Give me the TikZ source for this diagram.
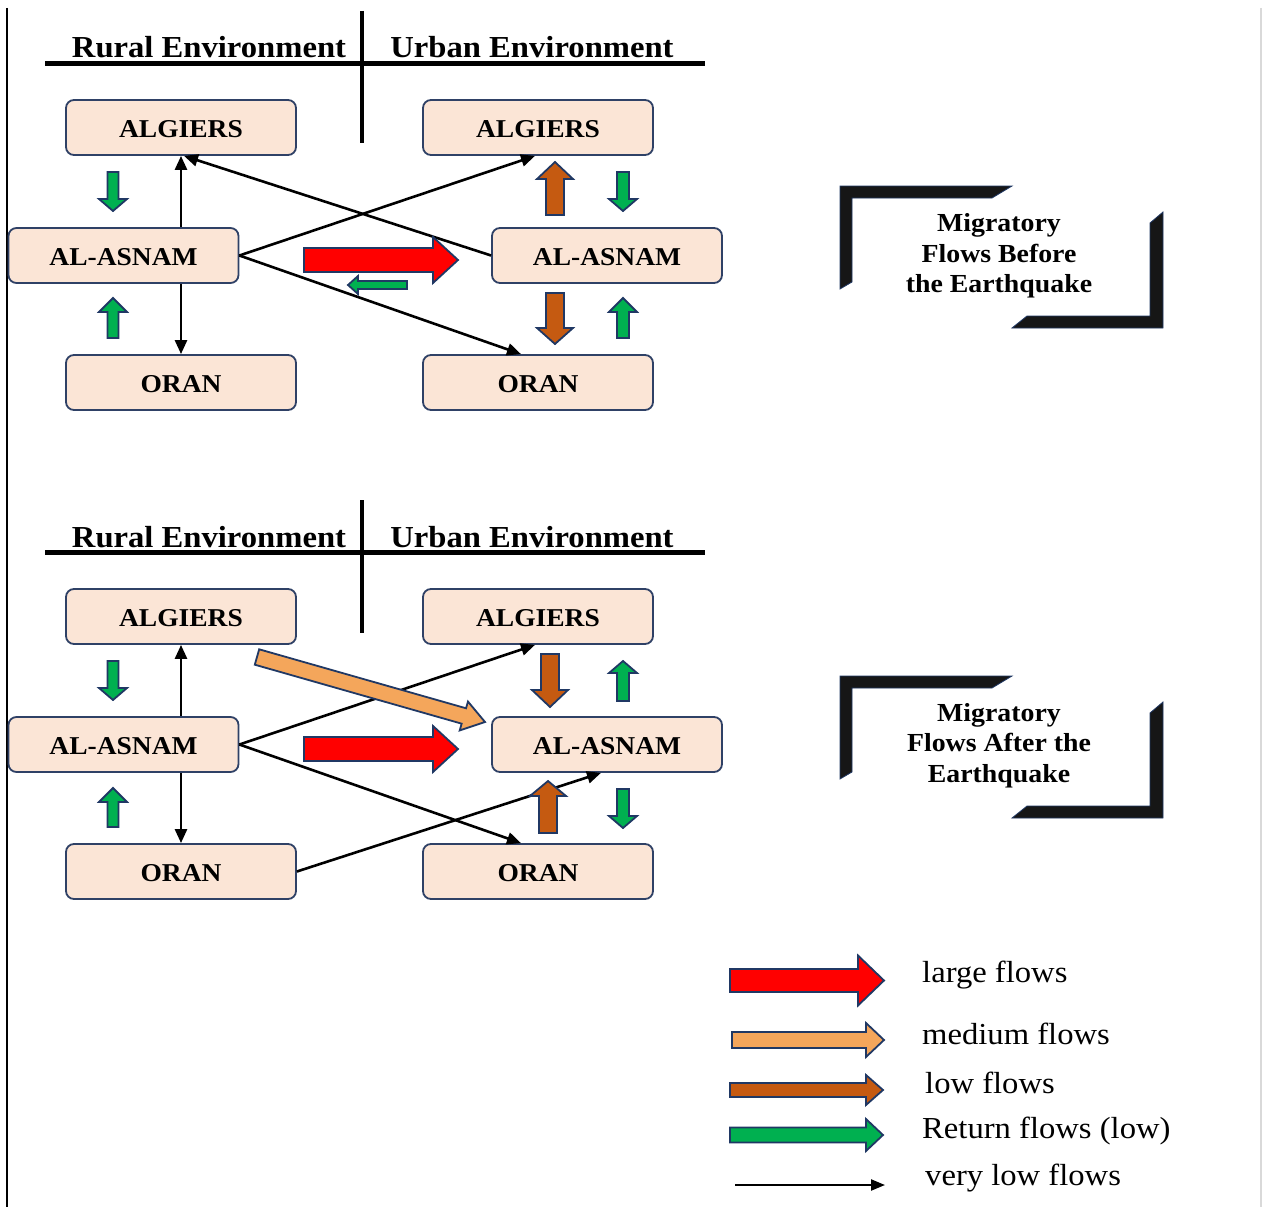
\documentclass[tikz,border=0pt]{standalone}
\usepackage{fontspec}
\setmainfont{Liberation Serif}[FakeStretch=1.07]
\usetikzlibrary{calc,arrows.meta}

\definecolor{nodefill}{HTML}{FBE5D6}
\definecolor{nodeline}{HTML}{2F4166}
\definecolor{arrowline}{HTML}{203864}
\definecolor{largeflow}{HTML}{FF0000}
\definecolor{mediumflow}{HTML}{F4A65B}
\definecolor{lowflow}{HTML}{C55A11}
\definecolor{returnflow}{HTML}{00B050}
\definecolor{bracketfill}{HTML}{161616}

\newcommand\cityfont{\fontsize{25.7}{30}\selectfont\bfseries}
\newcommand\headfont{\fontsize{30.5}{34}\selectfont\bfseries}
\newcommand\legfont{\fontsize{30.5}{34}\selectfont}
\newcommand\capfont{\fontsize{26}{30.5}\selectfont\bfseries}

% block arrow: start, end, shaft half-width, head half-width, head length, colour
\newcommand\flowarrow[6]{%
  \coordinate (fa-s) at (#1);
  \coordinate (fa-e) at (#2);
  \coordinate (fa-h) at ($(fa-e)!#5pt!(fa-s)$);
  \filldraw[fill=#6, draw=arrowline, line width=1.8pt, line join=miter]
    ($(fa-s)!#3pt!90:(fa-e)$) -- ($(fa-h)!#3pt!90:(fa-e)$) --
    ($(fa-h)!#4pt!90:(fa-e)$) -- (fa-e) --
    ($(fa-h)!#4pt!-90:(fa-e)$) -- ($(fa-h)!#3pt!-90:(fa-e)$) --
    ($(fa-s)!#3pt!-90:(fa-e)$) -- cycle;
}

% half-frame brackets around a caption, shifted vertically by #1
\newcommand\captionframe[1]{%
  \begin{scope}[yshift=-#1pt]
    \filldraw[fill=bracketfill, draw=arrowline, line width=0.8pt]
      (840,186) -- (1012,186) -- (992,198) -- (852,198) -- (852,282) -- (840,289) -- cycle;
    \filldraw[fill=bracketfill, draw=arrowline, line width=0.8pt]
      (1163,328) -- (1012,328) -- (1027,316) -- (1150,316) -- (1150,223) -- (1163,212) -- cycle;
  \end{scope}
}

\tikzset{
  city/.style={draw=nodeline, fill=nodefill, line width=1.8pt, rounded corners=8pt,
    minimum width=230pt, minimum height=55pt, inner sep=0pt, font=\cityfont,
    text height=20.5pt, text depth=0pt},
  flow/.style={line width=2.6pt, -{Triangle[length=14pt,width=12pt]}},
  divider/.style={line width=4.5pt},
  heading/.style={anchor=base, inner sep=0pt, font=\headfont},
  legendtext/.style={anchor=base west, inner sep=0pt, font=\legfont},
  caption/.style={align=center, inner sep=0pt, font=\capfont},
}

\begin{document}
\begin{tikzpicture}[x=1pt,y=-1pt]
\useasboundingbox (0,0) rectangle (1262,1207);

% page rules
\draw[line width=2pt] (7,8) -- (7,1207);
\draw[gray!30, line width=1.5pt] (1261,8) -- (1261,1207);

% ---------------- before the earthquake ----------------
\draw[divider] (45,63.5) -- (705,63.5);
\draw[divider] (362,11) -- (362,143);
\node[heading] (h1r) at (209,58) {Rural Environment};
\node[heading] (h1u) at (532,58) {Urban Environment};

\node[city] (rAl1) at (181,127.5) {ALGIERS};
\node[city] (rAs1) at (123.5,255.5) {AL-ASNAM};
\node[city] (rOr1) at (181,382.5) {ORAN};
\node[city] (uAl1) at (538,127.5) {ALGIERS};
\node[city] (uAs1) at (607,255.5) {AL-ASNAM};
\node[city] (uOr1) at (538,382.5) {ORAN};

\draw[flow] (rAs1.north -| rAl1.south) -- (rAl1.south);
\draw[flow] (rAs1.south -| rOr1.north) -- (rOr1.north);
\draw[flow] (rAs1.east) -- ($(uAl1.south)+(-3,0)$);
\draw[flow] (rAs1.east) -- ($(uOr1.north)+(-17,0)$);
\draw[flow] (uAs1.west) -- ($(rAl1.south)+(3,0)$);

\flowarrow{113,172}{113,211}{5.5}{14}{12}{returnflow}
\flowarrow{113,338}{113,298}{5.5}{14}{14}{returnflow}
\flowarrow{555,215}{555,162}{9}{18}{17}{lowflow}
\flowarrow{623,172}{623,211}{6}{14}{12}{returnflow}
\flowarrow{555,293}{555,344}{9}{18}{16}{lowflow}
\flowarrow{623,338}{623,298}{6}{14}{14}{returnflow}
\flowarrow{304,260}{458,260}{12}{23}{25}{largeflow}
\flowarrow{407,285}{348,285}{4}{9}{10}{returnflow}

\captionframe{0}
\node[caption] (cap1) at (999,256) {Migratory\\Flows Before\\the Earthquake};

% ---------------- after the earthquake ----------------
\draw[divider] (45,552.5) -- (705,552.5);
\draw[divider] (362,500) -- (362,633);
\node[heading] (h2r) at (209,547) {Rural Environment};
\node[heading] (h2u) at (532,547) {Urban Environment};

\node[city] (rAl2) at (181,616.5) {ALGIERS};
\node[city] (rAs2) at (123.5,744.5) {AL-ASNAM};
\node[city] (rOr2) at (181,871.5) {ORAN};
\node[city] (uAl2) at (538,616.5) {ALGIERS};
\node[city] (uAs2) at (607,744.5) {AL-ASNAM};
\node[city] (uOr2) at (538,871.5) {ORAN};

\draw[flow] (rAs2.north -| rAl2.south) -- (rAl2.south);
\draw[flow] (rAs2.south -| rOr2.north) -- (rOr2.north);
\draw[flow] (rAs2.east) -- ($(uAl2.south)+(-3,0)$);
\draw[flow] (rAs2.east) -- ($(uOr2.north)+(-17,0)$);
\draw[flow] (rOr2.east) -- ($(uAs2.south)+(-6,0)$);

\flowarrow{113,661}{113,700}{5.5}{14}{12}{returnflow}
\flowarrow{113,827}{113,788}{5.5}{14}{14}{returnflow}
\flowarrow{257,657}{485,722}{8}{15}{22}{mediumflow}
\flowarrow{304,749}{458,749}{12}{23}{25}{largeflow}
\flowarrow{550,654}{550,707}{9}{18}{17}{lowflow}
\flowarrow{623,701}{623,661}{6}{14}{12}{returnflow}
\flowarrow{548,833}{548,781}{9}{18}{15}{lowflow}
\flowarrow{623,789}{623,828}{6}{14}{12}{returnflow}

\captionframe{490}
\node[caption] (cap2) at (999,745.5) {Migratory\\Flows After the\\Earthquake};

% ---------------- legend ----------------
\flowarrow{730,980.5}{884,980.5}{11.5}{25}{26}{largeflow}
\flowarrow{732,1040}{884,1040}{8}{17}{18}{mediumflow}
\flowarrow{730,1090}{883,1090}{7}{15}{17}{lowflow}
\flowarrow{730,1135}{883,1135}{7.5}{16}{17}{returnflow}
\coordinate (vlA) at (735,1185);
\coordinate (vlB) at (885,1185);
\draw[line width=2.2pt, -{Triangle[length=14pt,width=11pt]}] (vlA) -- (vlB);

\node[legendtext] (l1) at (922,982) {large flows};
\node[legendtext] (l2) at (922,1044) {medium flows};
\node[legendtext] (l3) at (925,1093) {low flows};
\node[legendtext] (l4) at (922,1138) {Return flows (low)};
\node[legendtext] (l5) at (925,1185) {very low flows};
\end{tikzpicture}
\end{document}
